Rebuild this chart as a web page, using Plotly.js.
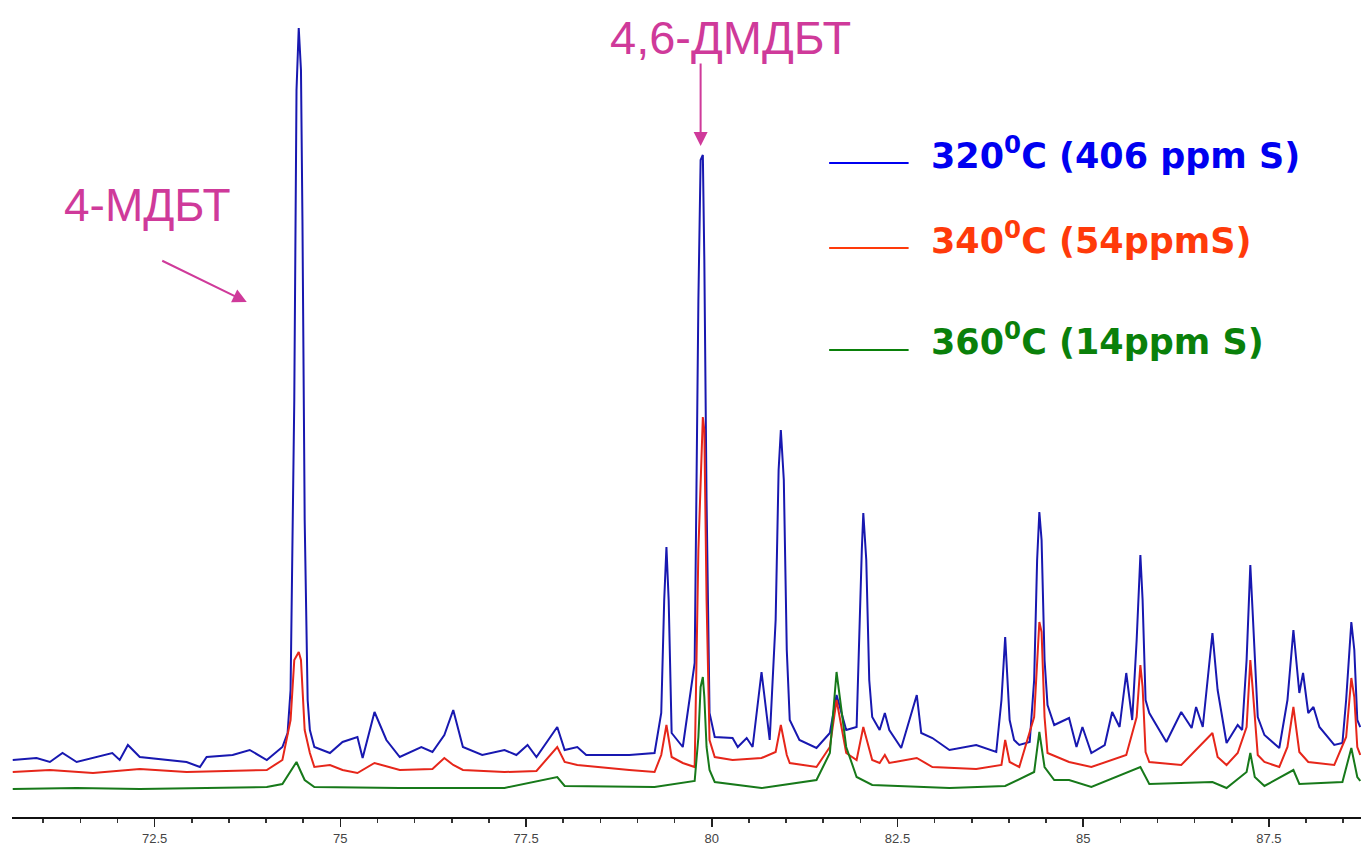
<!DOCTYPE html>
<html>
<head>
<meta charset="utf-8">
<script src="https://cdn.plot.ly/plotly-3.0.1.min.js"></script>
<style>
  html, body { margin: 0; padding: 0; background: #ffffff; }
  #chart { width: 1361px; height: 850px; }
</style>
</head>
<body>
<div id="chart"></div>
<script>
// Retention time axis values (min) and detector response (arbitrary units)
const blueX = [70.59,70.91,71.09,71.26,71.45,71.67,71.93,72.03,72.14,72.30,72.66,72.93,73.11,73.20,73.55,73.78,74.01,74.22,74.29,
  74.33,74.38,74.41,74.44,74.47,74.49,74.52,74.56,74.59,74.65,74.86,75.03,75.23,75.30,75.46,75.62,75.80,76.09,76.24,76.40,76.52,76.65,
  76.91,77.21,77.37,77.52,77.64,77.92,78.02,78.19,78.31,78.89,79.23,79.32,79.36,79.39,79.42,79.46,79.61,79.77,79.82,79.85,79.88,79.90,
  79.93,79.97,80.04,80.28,80.35,80.47,80.55,80.67,80.78,80.86,80.90,80.93,80.97,81.01,81.05,81.18,81.41,81.59,81.68,81.81,81.95,82.02,
  82.04,82.08,82.12,82.16,82.26,82.33,82.39,82.55,82.76,82.82,82.97,83.20,83.56,83.83,83.90,83.95,84.01,84.07,84.14,84.28,84.34,84.38,
  84.41,84.44,84.48,84.52,84.61,84.81,84.91,84.99,85.11,85.29,85.39,85.49,85.58,85.66,85.72,85.77,85.80,85.84,85.89,86.12,86.32,86.46,
  86.52,86.61,86.67,86.74,86.81,86.93,87.08,87.14,87.20,87.25,87.28,87.35,87.44,87.64,87.75,87.83,87.91,87.96,88.03,88.10,88.18,88.38,
  88.49,88.54,88.61,88.65,88.69,88.73];
const blueY = [57,59,55,64,55,59,64,57,72,60,57,55,50,60,62,67,57,70,84,
  127,417,727,789,747,597,297,117,87,70,64,75,80,59,105,77,60,70,65,82,107,70,
  62,67,62,72,60,90,67,70,62,62,64,104,217,270,217,84,70,154,517,657,662,557,
  317,104,80,79,70,79,70,145,77,197,347,387,337,167,97,77,69,84,122,87,90,267,
  304,257,137,100,87,104,87,69,122,84,79,67,72,65,117,180,97,77,72,75,137,257,
  305,277,157,112,92,99,70,90,64,72,105,90,144,97,177,262,217,117,104,75,105,89,
  110,90,137,184,127,74,92,87,157,252,207,100,82,69,117,187,124,144,104,110,90,72,
  74,117,195,167,97,90];

const redX = [70.59,71.09,71.67,72.30,72.93,73.55,74.01,74.22,74.33,74.38,74.44,74.47,74.52,74.59,74.65,74.86,75.03,75.23,75.46,
  75.80,76.24,76.40,76.52,76.65,77.21,77.64,77.92,78.02,78.19,78.89,79.23,79.32,79.39,79.46,79.61,79.77,79.82,79.88,79.90,79.93,79.97,
  80.04,80.28,80.67,80.86,80.93,81.01,81.05,81.41,81.59,81.68,81.81,81.95,82.04,82.16,82.26,82.33,82.39,82.76,82.97,83.56,83.90,83.95,
  84.01,84.14,84.34,84.41,84.44,84.48,84.52,84.81,85.11,85.58,85.72,85.77,85.80,85.84,85.89,86.32,86.74,86.81,86.93,87.08,87.20,87.25,
  87.28,87.35,87.44,87.64,87.75,87.83,87.91,88.03,88.38,88.54,88.61,88.65,88.69,88.73];
const redY = [45,47,44,48,45,46,47,57,97,157,165,157,87,64,50,52,47,44,54,
  47,48,59,52,47,45,46,70,55,52,47,45,62,92,60,54,50,267,400,387,217,77,
  60,57,59,65,92,62,54,50,70,117,64,57,90,57,54,62,54,59,50,48,52,77,
  55,50,100,195,185,100,64,55,50,62,100,152,130,65,55,52,84,60,52,64,90,157,
  130,62,55,50,70,110,65,55,52,80,139,120,70,62];

const greenX = [70.59,71.45,72.30,73.20,74.01,74.22,74.33,74.41,74.47,74.52,74.65,75.80,77.21,77.92,78.02,79.23,79.77,79.82,79.85,
  79.88,79.90,79.93,79.97,80.04,80.67,81.41,81.59,81.68,81.81,81.95,82.16,83.20,83.95,84.34,84.41,84.48,84.61,84.81,85.11,85.77,85.89,
  86.74,86.93,87.20,87.25,87.31,87.44,87.83,87.91,88.49,88.61,88.69,88.73];
const greenY = [28,29,28,29,30,33,45,55,45,37,30,29,29,40,31,30,36,80,130,
  140,120,70,47,35,29,37,64,145,70,40,32,29,31,45,85,50,37,37,30,50,33,
  35,29,45,64,40,31,47,33,35,69,40,36];

const seriesNames = ["320<sup>0</sup>C (406 ppm S)", "340<sup>0</sup>C (54ppmS)", "360<sup>0</sup>C (14ppm S)"];
const tickVals = [72.5, 75, 77.5, 80, 82.5, 85, 87.5];
const tickText = ["72.5", "75", "77.5", "80", "82.5", "85", "87.5"];

const lineBlue = "#1818b0", lineRed = "#e6261a", lineGreen = "#17791a";
const txtBlue = "#0000f0", txtRed = "#ff3a0a", txtGreen = "#0a800a";
const pink = "#cf3a9a";

const traces = [
  {x: blueX, y: blueY, type: "scatter", mode: "lines", line: {color: lineBlue, width: 2}, name: "320C", hoverinfo: "skip"},
  {x: redX, y: redY, type: "scatter", mode: "lines", line: {color: lineRed, width: 2}, name: "340C", hoverinfo: "skip"},
  {x: greenX, y: greenY, type: "scatter", mode: "lines", line: {color: lineGreen, width: 2}, name: "360C", hoverinfo: "skip"}
];

const legFont = (c) => ({family: "DejaVu Sans, Arial, sans-serif", size: 35, color: c, weight: "bold"});
const legY = [664, 579, 478];
const legLineY = [654, 569, 467];
const legColors = [txtBlue, txtRed, txtGreen];

const annotations = [];
const shapes = [];
for (let i = 0; i < 3; i++) {
  annotations.push({
    x: 82.93, y: legY[i], xref: "x", yref: "y", xanchor: "left", yanchor: "middle",
    text: "<b>" + seriesNames[i] + "</b>", showarrow: false, font: legFont(legColors[i])
  });
  shapes.push({type: "line", xref: "x", yref: "y", x0: 81.58, x1: 82.65, y0: legLineY[i], y1: legLineY[i],
    line: {color: legColors[i], width: 2}});
}
annotations.push({x: 72.41, y: 612, xref: "x", yref: "y", text: "4-МДБТ", showarrow: false,
  font: {family: "Liberation Sans, Arial, sans-serif", size: 46, color: pink}});
annotations.push({x: 80.25, y: 780, xref: "x", yref: "y", text: "4,6-ДМДБТ", showarrow: false,
  font: {family: "Liberation Sans, Arial, sans-serif", size: 47, color: pink}});
annotations.push({x: 73.74, y: 515, xref: "x", yref: "y", text: "", showarrow: true, ax: -86, ay: -42,
  arrowhead: 2, arrowsize: 1.4, arrowwidth: 2, arrowcolor: pink, standoff: 0});
annotations.push({x: 79.85, y: 671, xref: "x", yref: "y", text: "", showarrow: true, ax: 0, ay: -84,
  arrowhead: 2, arrowsize: 1.4, arrowwidth: 2, arrowcolor: pink, standoff: 0});

const layout = {
  width: 1361, height: 850,
  margin: {l: 12, r: 0, t: 0, b: 33},
  paper_bgcolor: "#ffffff", plot_bgcolor: "#ffffff",
  showlegend: false,
  xaxis: {
    range: [70.58, 88.74], showgrid: false, zeroline: false,
    showline: true, linecolor: "#111111", linewidth: 2,
    ticks: "outside", ticklen: 8, tickwidth: 1.5, tickcolor: "#222222",
    tickvals: tickVals, ticktext: tickText,
    tickfont: {family: "Liberation Sans, Arial, sans-serif", size: 13, color: "#444444"},
    minor: {dtick: 0.5, tick0: 72.5, ticks: "outside", ticklen: 4, tickcolor: "#333333", tickwidth: 1.5, showgrid: false}
  },
  yaxis: {range: [0, 817], visible: false, fixedrange: true},
  annotations: annotations,
  shapes: shapes
};

Plotly.newPlot("chart", traces, layout, {displayModeBar: false, staticPlot: true});
</script>
</body>
</html>
